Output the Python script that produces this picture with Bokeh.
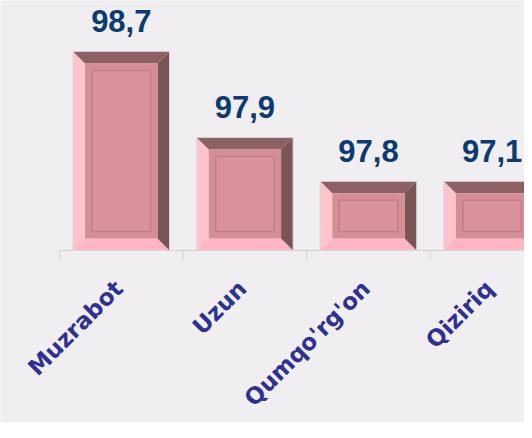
import math
from bokeh.plotting import figure
from bokeh.models import Range1d
from bokeh.embed import file_html
from bokeh.resources import INLINE
from bokeh.core.properties import value

# ---- data ----
categories = ["Muzrabot", "Uzun", "Qumqo'rg'on", "Qiziriq"]
value_labels = ["98,7", "97,9", "97,8", "97,1"]
# drawn bar heights (hidden scale)
bar_heights = [2.88, 1.635, 1.0, 1.0]
boundaries = [0, 1, 2, 3, 4]

# ---- layout / style ----
W, H = 524, 422
cat_px = 123.6          # pixels per category
left_px = 59            # category axis starts here
base_px = 250           # baseline, px from top
ux = 1.0 / cat_px       # data units per px (x)
uy = 3.616 / base_px    # data units per px (y)
half = 0.39
bev = 12
inner = 19
BG = "#f0eef0"

p = figure(width=W, height=H,
           x_range=Range1d(-left_px * ux, (W - left_px) * ux),
           y_range=Range1d(-(H - base_px) * uy, base_px * uy),
           output_backend="svg", toolbar_location=None,
           min_border=0, x_axis_location=None, y_axis_location=None)
p.background_fill_color = BG
p.border_fill_color = BG
p.outline_line_color = None
p.grid.visible = False

centers = [i + 0.5 for i in range(len(categories))]

tops, rights, bottoms, lefts = ([], []), ([], []), ([], []), ([], [])
face_l, face_r, face_t, face_b = [], [], [], []
in_l, in_r, in_t, in_b = [], [], [], []
dx, dy = bev * ux, bev * uy
ix, iy = inner * ux, inner * uy
for c, h in zip(centers, bar_heights):
    x0, x1, y0, y1 = c - half, c + half, 0.0, h
    tops[0].append([x0, x1, x1 - dx, x0 + dx]); tops[1].append([y1, y1, y1 - dy, y1 - dy])
    rights[0].append([x1, x1, x1 - dx, x1 - dx]); rights[1].append([y1, y0, y0 + dy, y1 - dy])
    bottoms[0].append([x0, x1, x1 - dx, x0 + dx]); bottoms[1].append([y0, y0, y0 + dy, y0 + dy])
    lefts[0].append([x0, x0, x0 + dx, x0 + dx]); lefts[1].append([y0, y1, y1 - dy, y0 + dy])
    face_l.append(x0 + dx); face_r.append(x1 - dx); face_b.append(y0 + dy); face_t.append(y1 - dy)
    in_l.append(x0 + ix); in_r.append(x1 - ix); in_b.append(y0 + iy); in_t.append(y1 - iy)

# axis line and category boundary ticks
p.segment(x0=[0], y0=[0], x1=[(W - left_px) * ux], y1=[0], line_color="#d2d2d2", line_width=1)
p.segment(x0=boundaries, y0=[0] * len(boundaries), x1=boundaries,
          y1=[-10 * uy] * len(boundaries), line_color="#d2d2d2", line_width=1)

p.patches(xs=lefts[0], ys=lefts[1], fill_color="#ffc3cd", line_color=None)
p.patches(xs=bottoms[0], ys=bottoms[1], fill_color="#ffb6c2", line_color=None)
p.patches(xs=tops[0], ys=tops[1], fill_color="#8d6164", line_color=None)
p.patches(xs=rights[0], ys=rights[1], fill_color="#7a5457", line_color=None)
p.quad(left=face_l, right=face_r, bottom=face_b, top=face_t, fill_color="#d58e97", line_color=None)
p.quad(left=in_l, right=in_r, bottom=in_b, top=in_t, fill_color="#da939c",
       line_color="#c07f88", line_width=1.5)
p.quad(left=[c - half for c in centers], right=[c + half for c in centers],
       bottom=[0] * len(centers), top=bar_heights, fill_color=None, line_color="#d9d4d6", line_width=1)

# value labels
p.text(x=centers, y=bar_heights, text=value_labels, text_align="center",
       text_baseline="alphabetic", y_offset=-30,
       text_font=value("Liberation Sans"), text_font_style="bold",
       text_font_size="31px", text_color="#0d3b6f")

# rotated category labels
label_drop = 34  # px below the axis line
p.text(x=[c - 2.5 * ux for c in centers], y=[-label_drop * uy] * len(centers), text=categories,
       angle=math.pi / 4, text_align="right", text_baseline="middle",
       text_font=value("DejaVu Sans"), text_font_style="bold",
       text_font_size="23px", text_color="#2e3192")

open("out.html", "w").write(file_html(p, INLINE))
